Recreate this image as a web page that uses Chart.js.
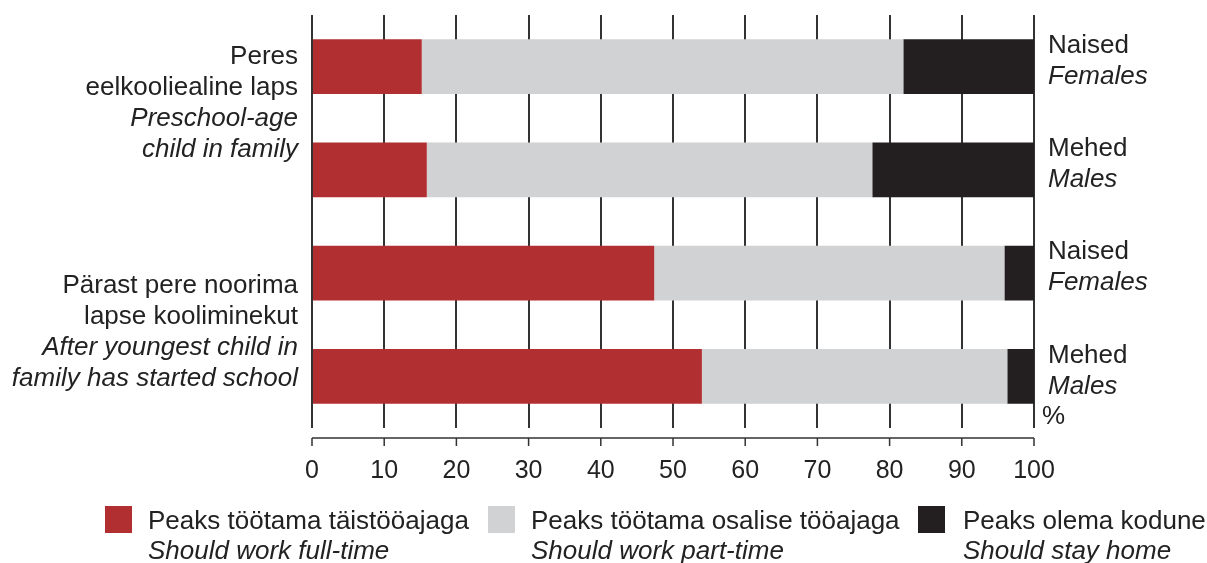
<!DOCTYPE html>
<html>
<head>
<meta charset="utf-8">
<script src="https://cdn.jsdelivr.net/npm/chart.js@4.4.1/dist/chart.umd.min.js"></script>
<style>
  body { margin: 0; background: #fff; font-family: "Liberation Sans", Arial, sans-serif; }
  #wrap { position: relative; width: 1207px; height: 563px; }
  #legend { position: absolute; left: 0; top: 0; width: 1207px; height: 563px; pointer-events: none; }
  .item { position: absolute; top: 505px; color: #222; font-size: 26px; line-height: 30px; }
  .item .box { position: absolute; left: 0; top: 1px; width: 27px; height: 27px; }
  .item .txt { position: absolute; white-space: nowrap; }
  .item i { display: block; }
</style>
</head>
<body>
<div id="wrap">
  <canvas id="myChart" width="1207" height="563"></canvas>
  <div id="legend"></div>
</div>
<script>
const categories = ['Naised|Females', 'Mehed|Males', 'Naised|Females', 'Mehed|Males'];
const fullTime = [15.2, 15.9, 47.4, 54.0];
const partTime = [66.7, 61.7, 48.5, 42.3];
const stayHome = [18.1, 22.4, 4.1, 3.7];
const seriesNames = [
    ['Peaks töötama täistööajaga', 'Should work full-time'],
    ['Peaks töötama osalise tööajaga', 'Should work part-time'],
    ['Peaks olema kodune', 'Should stay home']
];
const seriesColors = ['#b12f30', '#d1d2d4', '#231f20'];
const groupLabels = [
    { first: 0, offset: -10, lines: ['Peres', 'eelkooliealine laps', 'Preschool-age', 'child in family'] },
    { first: 2, offset: 13, lines: ['Pärast pere noorima', 'lapse kooliminekut', 'After youngest child in', 'family has started school'] }
];
const xTicks = [0, 10, 20, 30, 40, 50, 60, 70, 80, 90, 100];

const FONT = '"Liberation Sans", Arial, sans-serif';

// side labels, separate axis line and "%"
const annotations = {
    id: 'annotations',
    afterDraw(chart) {
        const ctx = chart.ctx;
        const x = chart.scales.x;
        const y = chart.scales.y;
        const area = chart.chartArea;
        ctx.save();
        ctx.fillStyle = '#222';
        ctx.textBaseline = 'middle';

        // left group labels
        ctx.textAlign = 'right';
        groupLabels.forEach(g => {
            const y0 = y.getPixelForValue(g.first) + g.offset;
            g.lines.forEach((line, i) => {
                ctx.font = (i < 2 ? '' : 'italic ') + '26px ' + FONT;
                ctx.fillText(line, x.left - 14, y0 + i * 31);
            });
        });

        // right labels per bar
        ctx.textAlign = 'left';
        categories.forEach((c, i) => {
            const parts = c.split('|');
            const cy = y.getPixelForValue(i) - 6;
            ctx.font = '26px ' + FONT;
            ctx.fillText(parts[0], x.right + 14, cy - 15);
            ctx.font = 'italic 26px ' + FONT;
            ctx.fillText(parts[1], x.right + 14, cy + 16);
        });

        ctx.font = '26px ' + FONT;
        ctx.fillText('%', x.right + 8, area.bottom - 11);

        // axis line below the grid
        const ay = area.bottom + 10;
        ctx.strokeStyle = '#333';
        ctx.lineWidth = 1.5;
        ctx.beginPath();
        ctx.moveTo(x.getPixelForValue(0), ay);
        ctx.lineTo(x.getPixelForValue(100), ay);
        xTicks.forEach(t => {
            const px = x.getPixelForValue(t);
            ctx.moveTo(px, ay);
            ctx.lineTo(px, ay + 8);
        });
        ctx.stroke();
        ctx.restore();
    }
};

const datasets = [fullTime, partTime, stayHome].map((d, i) => ({
    label: seriesNames[i][0],
    data: d,
    backgroundColor: seriesColors[i],
    borderWidth: 0,
    categoryPercentage: 1,
    barPercentage: 0.53
}));

const myChart = new Chart(document.getElementById('myChart').getContext('2d'), {
    type: 'bar',
    data: { labels: categories, datasets: datasets },
    options: {
        indexAxis: 'y',
        responsive: false,
        animation: false,
        layout: { padding: { left: 312, right: 173, top: 15, bottom: 49 } },
        plugins: { legend: { display: false }, tooltip: { enabled: false } },
        scales: {
            x: {
                stacked: true,
                min: 0,
                max: 100,
                afterBuildTicks: s => { s.ticks = xTicks.map(v => ({ value: v })); },
                grid: { color: '#333', lineWidth: 2, drawTicks: false },
                border: { display: false },
                ticks: { color: '#222', padding: 28, font: { family: FONT, size: 25 } }
            },
            y: {
                stacked: true,
                display: false
            }
        }
    },
    plugins: [annotations]
});

// legend below the chart
const legendEl = document.getElementById('legend');
const legendX = [105, 488, 918];
seriesNames.forEach((names, i) => {
    const item = document.createElement('div');
    item.className = 'item';
    item.style.left = legendX[i] + 'px';
    item.innerHTML = '<div class="box" style="background:' + seriesColors[i] + '"></div>' +
        '<div class="txt" style="left:' + (i === 2 ? 45 : 43) + 'px">' + names[0] + '<i>' + names[1] + '</i></div>';
    legendEl.appendChild(item);
});
</script>
</body>
</html>
